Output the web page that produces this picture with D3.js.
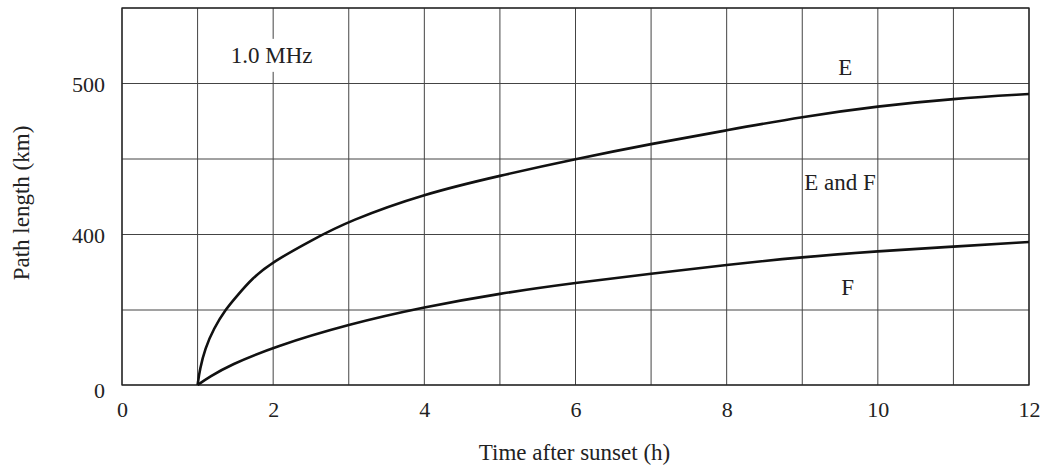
<!DOCTYPE html>
<html>
<head>
<meta charset="utf-8">
<script src="https://cdn.jsdelivr.net/npm/d3@7"></script>
<style>
  body { margin: 0; background: #fff; }
  text { font-family: 'Liberation Serif', 'Times New Roman', 'DejaVu Serif', serif; fill: #222; }
</style>
</head>
<body>
<div id="chart"></div>
<script>
// time after sunset (h) and path length (km)
const timeE = [1, 1.03, 1.1, 1.21, 1.38, 1.5, 1.72, 2, 2.5, 3, 4, 5, 6, 7, 8, 9, 10, 11, 12]
const pathE = [0, 75, 170, 262, 351, 358, 371, 382, 396, 409, 427, 439, 450, 460, 469, 478, 485, 490, 493]
const timeF = [1, 1.16, 1.43, 2, 3, 4, 5, 6, 7, 8, 9, 10, 11, 12]
const pathF = [0, 39, 93, 177, 284, 352, 361, 368, 374, 380, 385, 389, 392, 395]

const xTicks = [0, 2, 4, 6, 8, 10, 12]
const xGrid = d3.range(0, 13)
const yTicks = [0, 400, 500]
const yGrid = [0, 350, 400, 450, 500, 550]

const labels = [
  { text: '1.0 MHz', t: 1.98, v: 519, box: true },
  { text: 'E', t: 9.57, v: 511, box: false },
  { text: 'E and F', t: 9.5, v: 435, box: true },
  { text: 'F', t: 9.6, v: 365, box: false }
]

const width = 1049
const height = 474
const margin = { top: 8, right: 20, bottom: 89, left: 122 }
const w = width - margin.left - margin.right
const h = height - margin.top - margin.bottom

const x = d3.scaleLinear().domain([0, 12]).range([0, w])
// the axis is broken: 0..350 is squeezed into the bottom band
const y = d3.scaleLinear().domain([0, 350, 550]).range([h, h - 75, 0])

const svg = d3.select('#chart').append('svg')
  .attr('width', width).attr('height', height)
const g = svg.append('g')
  .attr('transform', 'translate(' + margin.left + ',' + margin.top + ')')

// grid
g.append('g').selectAll('line').data(xGrid).enter().append('line')
  .attr('x1', d => x(d)).attr('x2', d => x(d))
  .attr('y1', 0).attr('y2', h)
  .attr('stroke', '#444').attr('stroke-width', 1)
g.append('g').selectAll('line').data(yGrid).enter().append('line')
  .attr('x1', 0).attr('x2', w)
  .attr('y1', d => y(d)).attr('y2', d => y(d))
  .attr('stroke', '#444').attr('stroke-width', 1)
g.append('rect')
  .attr('width', w).attr('height', h)
  .attr('fill', 'none').attr('stroke', '#222').attr('stroke-width', 1.3)

// axes
const xAxis = g.append('g')
  .attr('transform', 'translate(0,' + h + ')')
  .call(d3.axisBottom(x).tickValues(xTicks).tickSize(0).tickPadding(16).tickFormat(d3.format('d')))
xAxis.select('.domain').remove()
xAxis.selectAll('text').style('font-size', '22px').attr('fill', '#222')

const yAxis = g.append('g')
  .call(d3.axisLeft(y).tickValues(yTicks).tickSize(0).tickPadding(17).tickFormat(d3.format('d')))
yAxis.select('.domain').remove()
yAxis.selectAll('text').style('font-size', '22px').attr('fill', '#222')
  .attr('dy', d => d === 0 ? '0.55em' : '0.35em')

svg.append('text')
  .attr('x', margin.left + x(6) - 1).attr('y', 460)
  .attr('text-anchor', 'middle').style('font-size', '23px')
  .text('Time after sunset (h)')
svg.append('text')
  .attr('transform', 'translate(29,' + 203 + ') rotate(-90)')
  .attr('text-anchor', 'middle').style('font-size', '23px')
  .text('Path length (km)')

// curves (basis smoothing irons out the reading noise)
const line = d3.line()
  .x(d => x(d[0]))
  .y(d => y(d[1]))
  .curve(d3.curveBasis)
const series = [d3.zip(timeE, pathE), d3.zip(timeF, pathF)]
g.selectAll('path.curve').data(series).enter().append('path')
  .attr('class', 'curve')
  .attr('d', line)
  .attr('fill', 'none').attr('stroke', '#111').attr('stroke-width', 2.6)

// labels, some sitting on white patches over the grid
labels.forEach(l => {
  const lg = g.append('g')
  const txt = lg.append('text')
    .attr('x', x(l.t)).attr('y', y(l.v))
    .attr('text-anchor', 'middle').attr('dy', '0.35em')
    .style('font-size', '23px')
    .text(l.text)
  if (l.box) {
    const bb = txt.node().getBBox()
    lg.insert('rect', 'text')
      .attr('x', bb.x - 1).attr('y', bb.y - 4)
      .attr('width', bb.width + 2).attr('height', bb.height + 8)
      .attr('fill', '#fff')
  }
})
</script>
</body>
</html>
